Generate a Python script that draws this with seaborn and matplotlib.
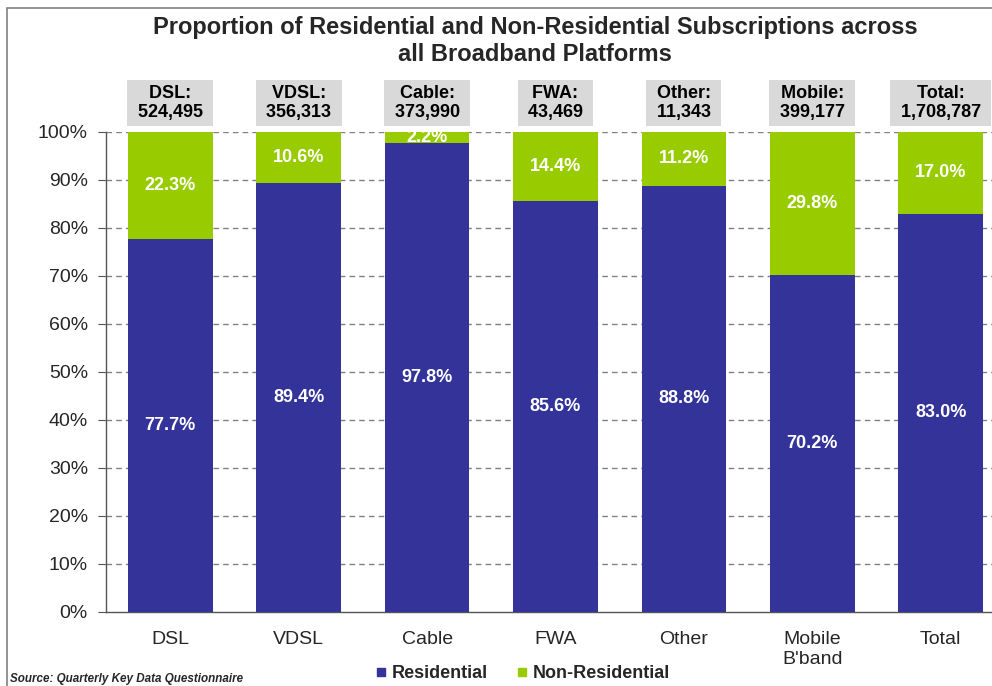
import pandas as pd
import numpy as np
import seaborn as sns
import matplotlib.pyplot as plt
from matplotlib.lines import Line2D
from matplotlib.patches import Rectangle
from matplotlib.ticker import PercentFormatter, FixedLocator

# values
platforms = ["DSL", "VDSL", "Cable", "FWA", "Other", "Mobile\nB'band", "Total"]
header_names = ["DSL:", "VDSL:", "Cable:", "FWA:", "Other:", "Mobile:", "Total:"]
subscriptions = ["524,495", "356,313", "373,990", "43,469", "11,343", "399,177", "1,708,787"]
residential = [77.7, 89.4, 97.8, 85.6, 88.8, 70.2, 83.0]
non_residential = [22.3, 10.6, 2.2, 14.4, 11.2, 29.8, 17.0]

blue = "#333399"
green = "#99CC00"

sns.set_style("white")
plt.rcParams["font.family"] = ["Liberation Sans", "DejaVu Sans"]

df = pd.DataFrame({"Platform": platforms,
                   "Residential": np.array(residential) / 100,
                   "Non-Residential": np.array(non_residential) / 100})
df["Top"] = df["Residential"] + df["Non-Residential"]

fig = plt.figure(figsize=(9.92, 6.86), dpi=100)
ax = fig.add_axes([106 / 992, 1 - 612 / 686, 899 / 992, 480 / 686])

# stacked bars: full height in green, residential part in blue on top of it
sns.barplot(data=df, x="Platform", y="Top", color=green, width=0.66,
            saturation=1, linewidth=0, ax=ax, zorder=3)
sns.barplot(data=df, x="Platform", y="Residential", color=blue, width=0.66,
            saturation=1, linewidth=0, ax=ax, zorder=3)

ax.set_ylim(0, 1)
ax.set_xlim(-0.5, 6.5)
ax.yaxis.set_major_locator(FixedLocator(np.arange(0, 1.01, 0.1)))
ax.yaxis.set_major_formatter(PercentFormatter(1.0, decimals=0))
ax.set_xlabel("")
ax.set_ylabel("")

# dashed grid lines
for y in np.arange(0.1, 1.01, 0.1):
    ax.axhline(y, color="#808080", linestyle=(0, (4, 3)), linewidth=1, zorder=1)

# category ticks sit between the bars
ax.set_xticks(range(len(platforms)))
ax.set_xticklabels(platforms, fontsize=14)
ax.tick_params(axis="x", length=0, pad=14)
ax.set_xticks(np.arange(0.5, 6.5, 1), minor=True)
ax.tick_params(axis="x", which="minor", length=6, color="#555555", direction="out")
ax.tick_params(axis="y", labelsize=14, length=6, pad=7, color="#555555",
               direction="out", left=True)

for side in ["top", "right"]:
    ax.spines[side].set_visible(False)
for side in ["left", "bottom"]:
    ax.spines[side].set_color("#555555")
    ax.spines[side].set_linewidth(1)

# value labels in the bars
for i in range(len(platforms)):
    r = residential[i] / 100
    n = non_residential[i] / 100
    ax.text(i, r / 2, f"{residential[i]:.1f}%", color="white", fontsize=13,
            fontweight="bold", ha="center", va="center", zorder=5)
    ax.text(i, r + n / 2, f"{non_residential[i]:.1f}%", color="white", fontsize=13,
            fontweight="bold", ha="center", va="center", zorder=5)
    # header boxes with subscription totals
    ax.text(i, 1.0604, f" {header_names[i]} \n {subscriptions[i]} ", color="black",
            fontsize=13, fontweight="bold", ha="center", va="center",
            linespacing=1.1, clip_on=False, zorder=5,
            bbox=dict(boxstyle="square,pad=0.3", facecolor="#d9d9d9", edgecolor="none"))

fig.text(535 / 992, 1 - 41 / 686,
         "Proportion of Residential and Non-Residential Subscriptions across\nall Broadband Platforms",
         ha="center", va="center", fontsize=17, fontweight="bold", linespacing=1.2)

handles = [Line2D([], [], marker="s", linestyle="", color=blue, markersize=6),
           Line2D([], [], marker="s", linestyle="", color=green, markersize=6)]
fig.legend(handles, ["Residential", "Non-Residential"], loc="center",
           bbox_to_anchor=(522 / 992, 1 - 674 / 686), ncol=2, frameon=False,
           prop={"size": 13, "weight": "bold"}, handlelength=0.8,
           handletextpad=0.2, columnspacing=1.5)

fig.text(10 / 992, 1 - 679 / 686, "Source: Quarterly Key Data Questionnaire",
         ha="left", va="center", fontsize=8.4, fontweight="bold", style="italic")

# outer chart border
fig.add_artist(Rectangle((7 / 992, -0.2), 1.2, 1.2 - 8 / 686, transform=fig.transFigure,
                         fill=False, edgecolor="#808080", linewidth=1.2))

fig.savefig("out.png", dpi=100)
